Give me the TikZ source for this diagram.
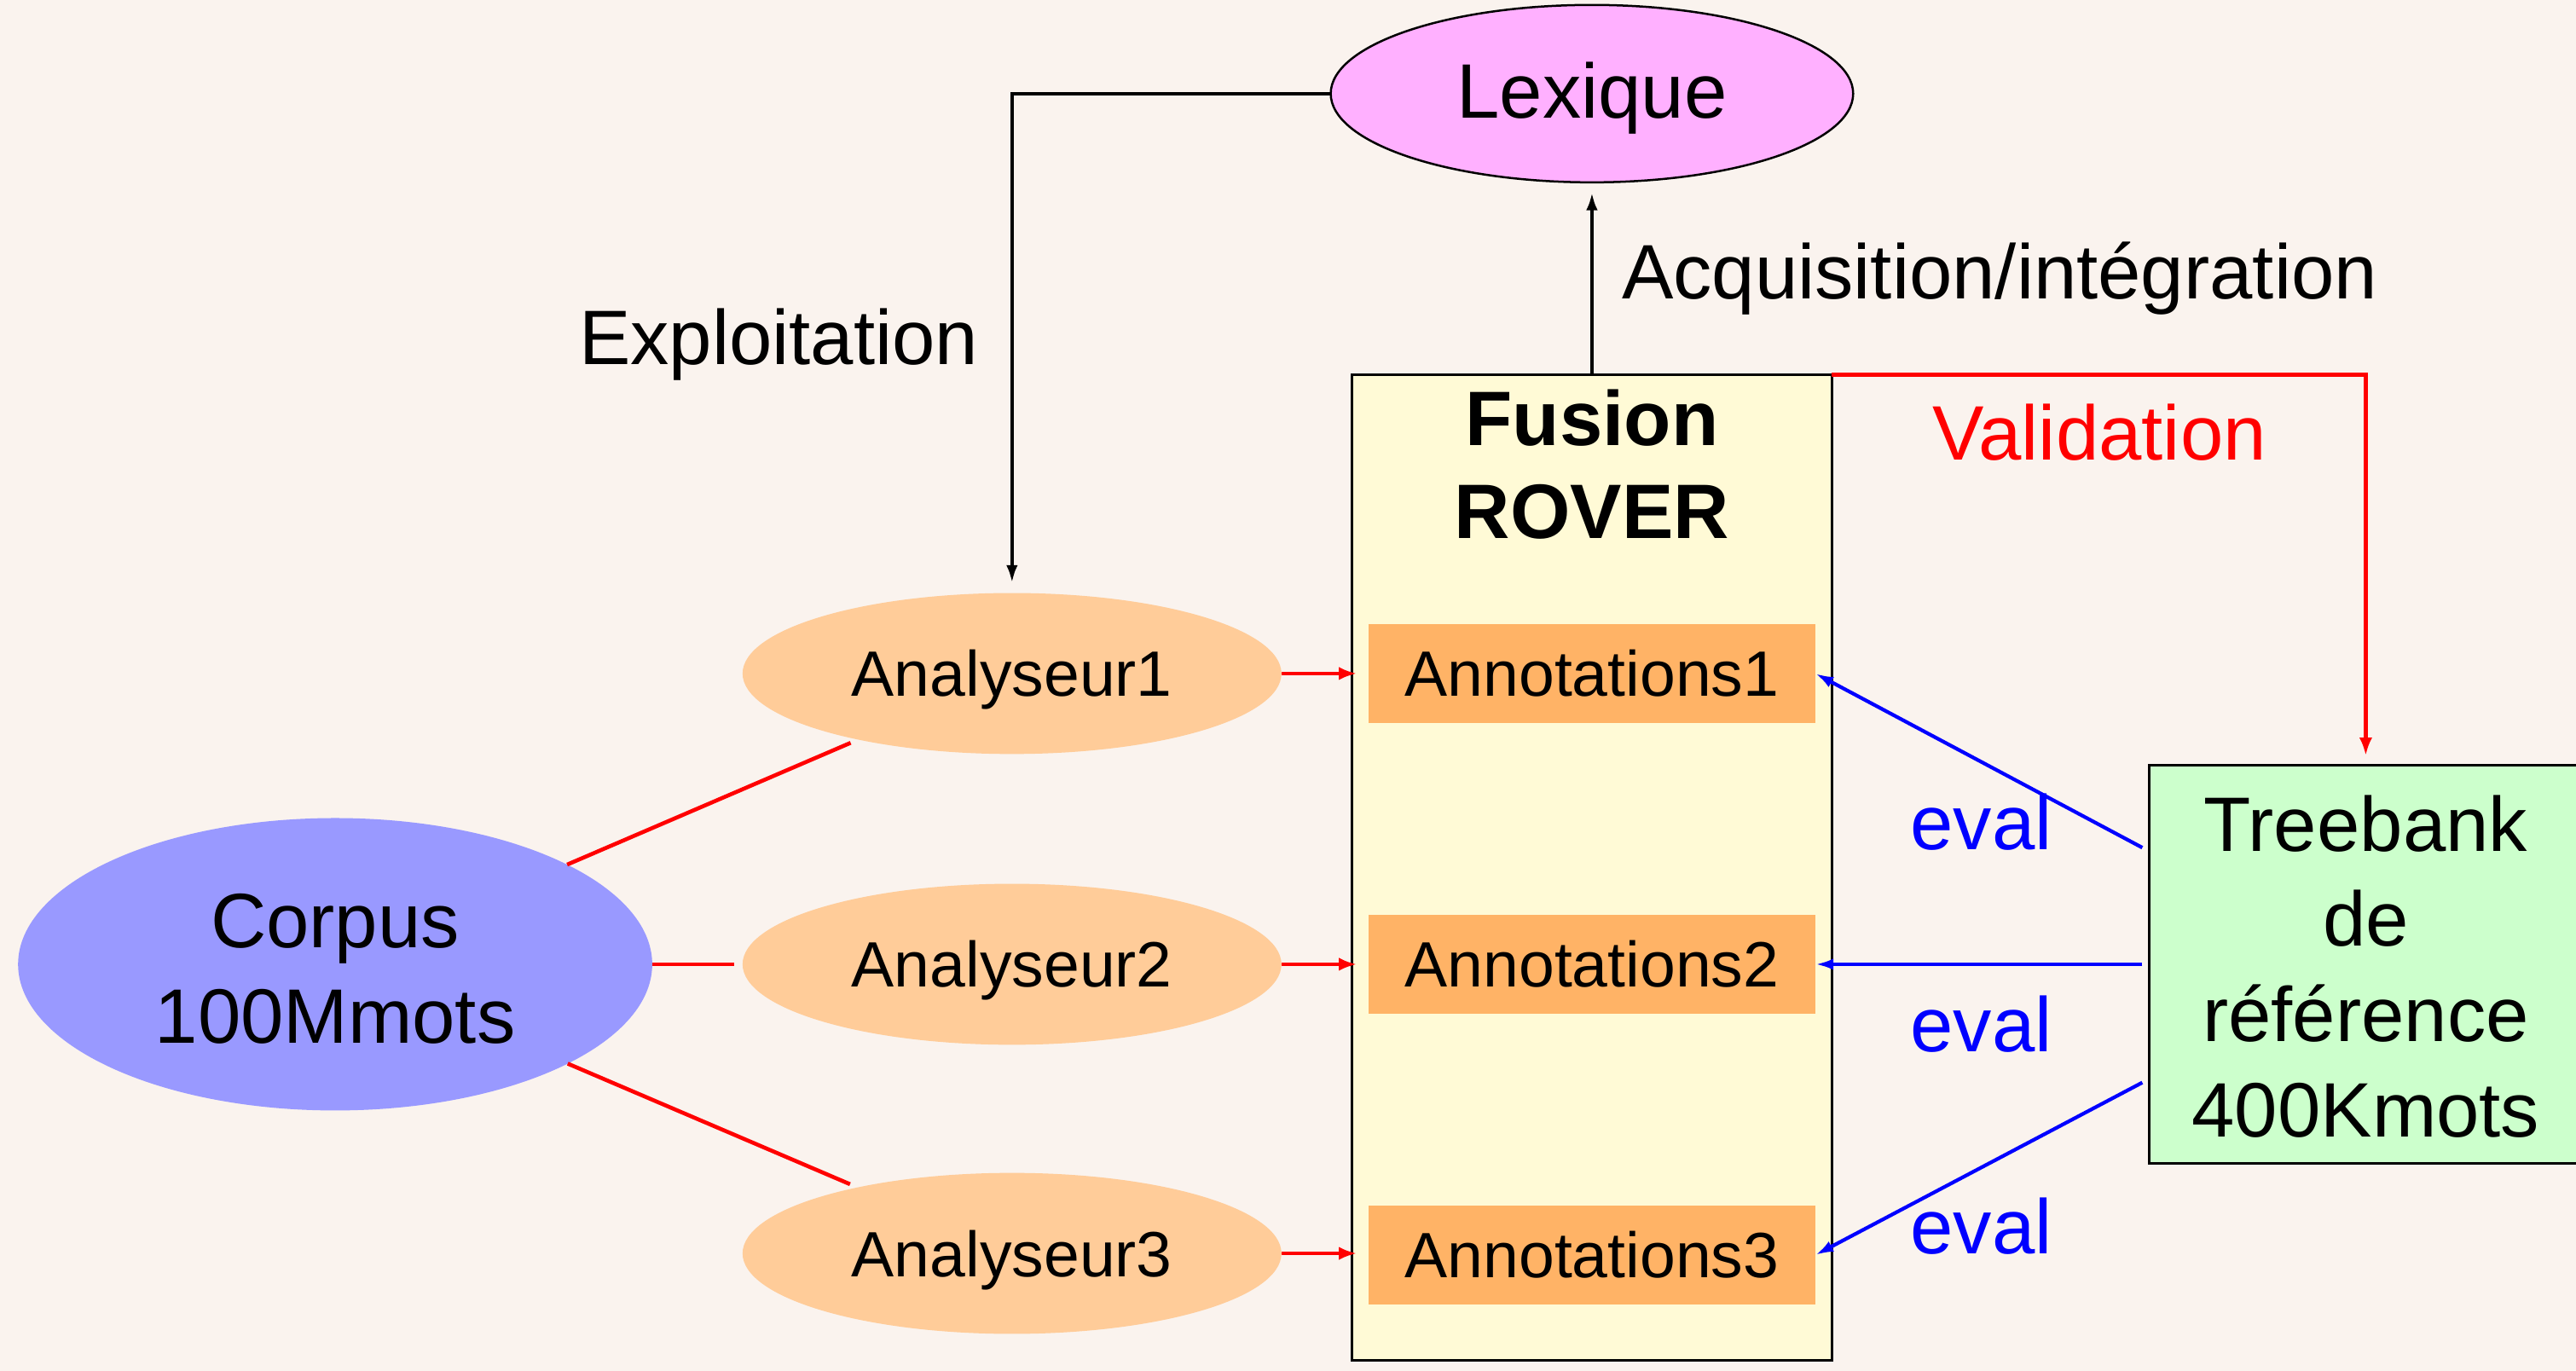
\documentclass[tikz,border=0pt]{standalone}
\usepackage{fontspec}
\setmainfont{Liberation Sans}
\usetikzlibrary{shapes.geometric,arrows.meta}
\definecolor{bg}{RGB}{250,243,238}
\definecolor{lexfill}{RGB}{255,176,255}
\definecolor{anfill}{RGB}{255,204,153}
\definecolor{corpusfill}{RGB}{153,153,255}
\definecolor{fusfill}{RGB}{255,250,214}
\definecolor{annfill}{RGB}{255,179,102}
\definecolor{treefill}{RGB}{204,255,204}
\begin{document}
\begin{tikzpicture}[x=1pt,y=-1pt,
  big/.style={font=\fontsize{47}{58}\selectfont, inner sep=0pt, anchor=base},
  small/.style={font=\fontsize{39}{48}\selectfont, inner sep=0pt, anchor=base},
  ell/.style={ellipse, inner sep=0pt, outer sep=0pt},
  box/.style={rectangle, inner sep=0pt, outer sep=0pt},
  blk/.style={line width=2.2pt, black, -{Latex[length=11pt,width=7pt]}},
  redl/.style={line width=2.4pt, red},
  reda/.style={line width=2.4pt, red, -{Latex[length=11pt,width=8pt]}},
  bluea/.style={line width=2.2pt, blue, -{Latex[length=11pt,width=7pt]}}]
\useasboundingbox (0,0) rectangle (1568,834.6);
\clip (0,0) rectangle (1568,834.6);
\fill[bg] (0,0) rectangle (1568,834.6);

% shapes
\node[ell, draw, line width=1.3pt, fill=lexfill, minimum width=318pt, minimum height=108pt] (lex) at (969,57) {};
\node[ell, fill=anfill, minimum width=328pt, minimum height=98pt] (an1) at (616,410) {};
\node[ell, fill=anfill, minimum width=328pt, minimum height=98pt] (an2) at (616,587) {};
\node[ell, fill=anfill, minimum width=328pt, minimum height=98pt] (an3) at (616,763) {};
\node[ell, fill=corpusfill, minimum width=386pt, minimum height=178pt] (corpus) at (204,587) {};
\node[box, draw, line width=1.6pt, fill=fusfill, minimum width=292pt, minimum height=600pt] (fusion) at (969,528) {};
\node[box, fill=annfill, minimum width=272pt, minimum height=60pt] (ann1) at (969,410) {};
\node[box, fill=annfill, minimum width=272pt, minimum height=60pt] (ann2) at (969,587) {};
\node[box, fill=annfill, minimum width=272pt, minimum height=60pt] (ann3) at (969,764) {};
\node[box, draw, line width=1.6pt, fill=treefill, minimum width=264pt, minimum height=242pt] (tree) at (1440,587) {};

% texts
\node[big] (lexT) at (969,72) {Lexique};
\node[big] (explT) at (474,222) {Exploitation};
\node[big, anchor=base west] (acqT) at (987,182) {Acquisition/intégration};
\node[big, text=red] (valT) at (1278,280) {Validation};
\node[big, align=center, font=\fontsize{47}{57}\selectfont\bfseries] (fusT) at (969,328) {Fusion\\ROVER};
\node[small] (an1T) at (616,424) {Analyseur1};
\node[small] (an2T) at (616,601) {Analyseur2};
\node[small] (an3T) at (616,777) {Analyseur3};
\node[small] (ann1T) at (969,424) {Annotations1};
\node[small] (ann2T) at (969,601) {Annotations2};
\node[small] (ann3T) at (969,778) {Annotations3};
\node[big, align=center] (corpusT) at (204,635) {Corpus\\100Mmots};
\node[big, align=center] (treeT) at (1440,692) {Treebank\\de\\référence\\400Kmots};
\node[big, text=blue] (ev1) at (1206,517) {eval};
\node[big, text=blue] (ev2) at (1206,640) {eval};
\node[big, text=blue] (ev3) at (1206,763) {eval};

% connectors
\draw[blk, shorten >=6pt] (lex.west) -| (an1.north);
\draw[blk, shorten >=6pt] (fusion.north) -- (lex.south);
\draw[redl, shorten >=5pt] (corpus) -- (an1);
\draw[redl, shorten >=5pt] (corpus) -- (an2);
\draw[redl, shorten >=5pt] (corpus) -- (an3);
\draw[reda, shorten >=-3pt] (an1.east) -- (an1.east -| fusion.west);
\draw[reda, shorten >=-3pt] (an2.east) -- (an2.east -| fusion.west);
\draw[reda, shorten >=-3pt] (an3.east) -- (an3.east -| fusion.west);
\draw[reda, shorten >=6pt] (fusion.north east) -| (tree.north);
\coordinate (t1) at ([xshift=-4pt, yshift=71pt]tree.west);
\coordinate (t2) at ([xshift=-4pt]tree.west);
\coordinate (t3) at ([xshift=-4pt, yshift=-72pt]tree.west);
\draw[bluea] (t1) -- (ann1.east);
\draw[bluea] (t2) -- (ann2.east);
\draw[bluea] (t3) -- (ann3.east);
\end{tikzpicture}
\end{document}
